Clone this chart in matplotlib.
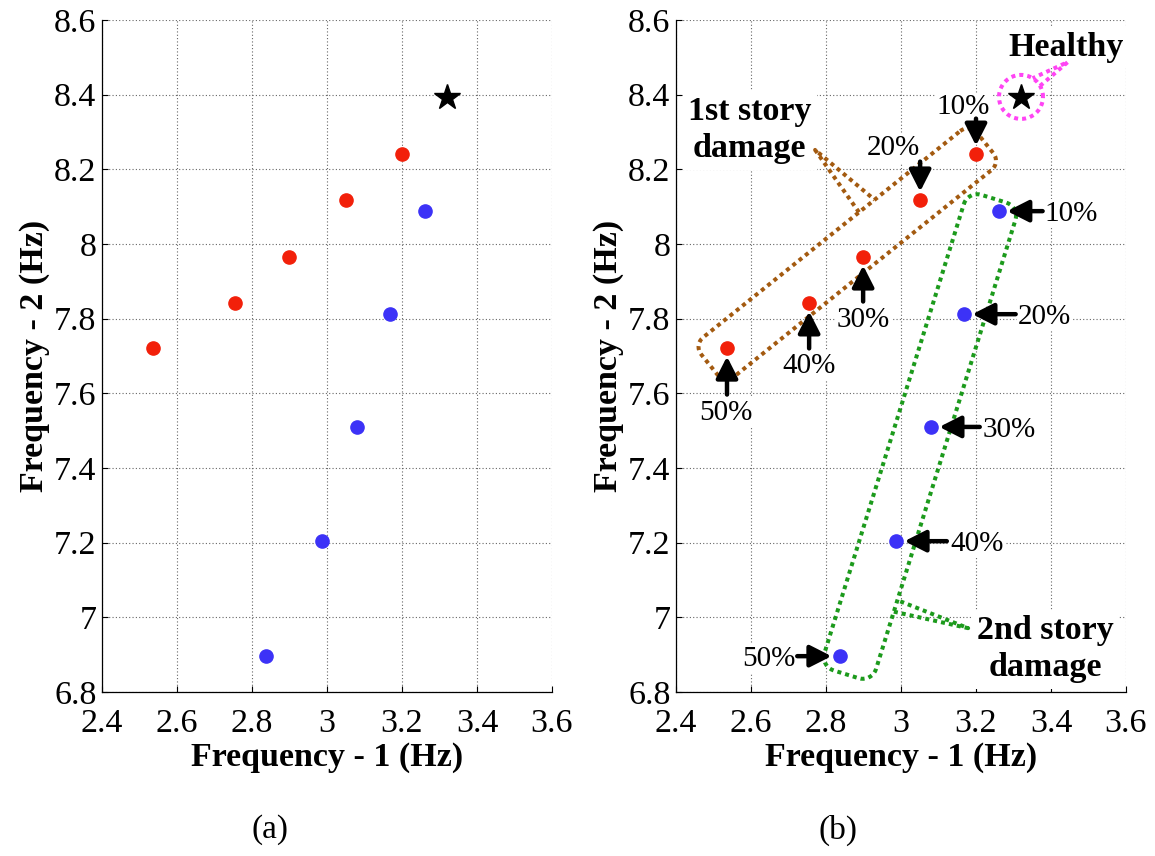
import numpy as np
import matplotlib
matplotlib.use('Agg')
import matplotlib.pyplot as plt
from matplotlib.ticker import FormatStrFormatter

plt.rcParams['font.family'] = ['Liberation Serif', 'DejaVu Serif']

# identified natural frequencies (Hz), damage levels 10% .. 50%
levels = ['10%', '20%', '30%', '40%', '50%']
story1_f1 = [3.200, 3.051, 2.899, 2.755, 2.536]
story1_f2 = [8.241, 8.118, 7.965, 7.842, 7.721]
story2_f1 = [3.261, 3.168, 3.080, 2.987, 2.837]
story2_f2 = [8.088, 7.812, 7.510, 7.204, 6.896]
healthy_f1 = 3.320
healthy_f2 = 8.394

xticks = [2.4, 2.6, 2.8, 3.0, 3.2, 3.4, 3.6]
yticks = [6.8, 7.0, 7.2, 7.4, 7.6, 7.8, 8.0, 8.2, 8.4, 8.6]

RED = '#f2200a'
BLUE = '#3c32f7'
BROWN = '#a35a10'
GREEN = '#1c9a1c'
MAGENTA = '#ff44f4'
DOTS = (0, (1, 1))

fig = plt.figure(figsize=(11.55, 8.56), dpi=100)
W, H = 1155, 856
ax1 = fig.add_axes([102 / W, (H - 692) / H, 450 / W, 672 / H])
ax2 = fig.add_axes([676 / W, (H - 692) / H, 450 / W, 672 / H])


def setup(ax):
    ax.set_xlim(2.4, 3.6)
    ax.set_ylim(6.8, 8.6)
    ax.set_xticks(xticks)
    ax.set_yticks(yticks)
    ax.xaxis.set_major_formatter(FormatStrFormatter('%g'))
    ax.yaxis.set_major_formatter(FormatStrFormatter('%g'))
    ax.tick_params(direction='in', length=4, width=0.8, labelsize=24.5,
                   top=False, right=False)
    ax.tick_params(axis='x', pad=12)
    ax.tick_params(axis='y', pad=4)
    for s in ['top', 'right']:
        ax.spines[s].set_visible(False)
    for s in ['left', 'bottom']:
        ax.spines[s].set_linewidth(0.9)
    ax.set_axisbelow(True)
    ax.grid(True, linestyle=(0, (1, 2)), lw=0.8, color='#666666')
    ax.plot(story1_f1, story1_f2, 'o', color=RED, ms=9.5, mec=RED, zorder=6)
    ax.plot(story2_f1, story2_f2, 'o', color=BLUE, ms=9.5, mec=BLUE, zorder=6)
    ax.plot(healthy_f1, healthy_f2, '*', color='k', ms=19, zorder=6)
    ax.set_xlabel('Frequency - 1 (Hz)', fontsize=24.5, fontweight='bold')
    ax.set_ylabel('Frequency - 2 (Hz)', fontsize=24.5, fontweight='bold')
    ax.xaxis.set_label_coords(0.5, -0.074)
    ax.yaxis.set_label_coords(-0.115, 0.5)


setup(ax1)
setup(ax2)


def dotted(ax, pts, color):
    d = ax.transData.inverted().transform(np.asarray(pts))
    ax.plot(d[:, 0], d[:, 1], color=color, lw=2.9, ls=DOTS,
            dash_capstyle='butt', zorder=5, clip_on=False)


def group_box(ax, xs, ys, pads, perps, half_w, r, color):
    # rounded box (pixel units) around the segment from the last point to the first
    a = ax.transData.transform((xs[-1], ys[-1]))
    b = ax.transData.transform((xs[0], ys[0]))
    u = (b - a) / np.hypot(*(b - a))
    n = np.array([u[1], -u[0]])
    c0 = a - pads[0] * u + perps[0] * n
    c1 = b + pads[1] * u + perps[1] * n
    L = np.hypot(*(c1 - c0))
    u = (c1 - c0) / L
    n = np.array([u[1], -u[0]])

    def local(s, t):
        return c0 + s * u + t * n

    pts = []
    for cs, ct, a0 in [(L - r, -half_w + r, -90), (L - r, half_w - r, 0),
                       (r, half_w - r, 90), (r, -half_w + r, 180)]:
        ang = np.radians(np.linspace(a0, a0 + 90, 10))
        for s, t in zip(cs + r * np.cos(ang), ct + r * np.sin(ang)):
            pts.append(local(s, t))
    pts.append(pts[0])
    dotted(ax, pts, color)
    return local


def tail(ax, bases, tip, color):
    t = ax.transData.transform(tip)
    dotted(ax, [bases[0], t, bases[1]], color)


# 1st story group
loc1 = group_box(ax2, story1_f1, story1_f2, pads=(24, 14), perps=(2, -3),
                 half_w=25, r=12, color=BROWN)
tail(ax2, [loc1(212, -25), loc1(232, -25)], (2.771, 8.252), BROWN)

# 2nd story group
loc2 = group_box(ax2, story2_f1, story2_f2, pads=(15, 10), perps=(12, -9),
                 half_w=27, r=14, color=GREEN)
tail(ax2, [loc2(74, 27), loc2(86, 27)], (3.179, 6.971), GREEN)

# healthy state ring
c = ax2.transData.transform((healthy_f1, healthy_f2))
ang = np.radians(np.linspace(0, 360, 60))
ring = np.column_stack([c[0] + 22 * np.cos(ang), c[1] + 22 * np.sin(ang)])
dotted(ax2, ring, MAGENTA)
tail(ax2, [c + 22 * np.array([np.cos(np.radians(30)), np.sin(np.radians(30))]),
           c + 22 * np.array([np.cos(np.radians(58)), np.sin(np.radians(58))])],
     (3.445, 8.4875), MAGENTA)

bold = dict(fontsize=24.5, fontweight='bold', zorder=3,
            bbox=dict(fc='white', ec='none', pad=4))
ax2.text(3.441, 8.5036, 'Healthy', ha='center', va='baseline', **bold)
ax2.text(2.597, 8.305, '1st story\ndamage', ha='center', va='center',
         linespacing=1.25, **bold)
ax2.text(3.384, 6.915, '2nd story\ndamage', ha='center', va='center',
         linespacing=1.25, **bold)

arrow = dict(arrowstyle='-|>,head_length=0.65,head_width=0.33', color='k',
             lw=3.2, shrinkA=0, mutation_scale=20)
label_box = dict(fc='white', ec='none', pad=1)

# (arrow tail offset, text offset, ha) in points
story1_marks = [((0, 25.5), (-9.4, 33.5), 'center'),
                ((0, 27.6), (-19.4, 37.2), 'center'),
                ((0, -32.0), (0, -45.2), 'center'),
                ((0, -32.7), (0, -45.2), 'center'),
                ((0, -33.4), (-0.7, -46.6), 'center')]
story2_marks = [((31.5, 0), (33.0, -2), 'left'),
                ((37.2, 0), (38.9, -2), 'left'),
                ((35.1, 0), (37.4, -2), 'left'),
                ((36.5, 0), (38.9, -2), 'left'),
                ((-30.7, 0), (-31.7, -2), 'right')]

for xs, ys, marks in [(story1_f1, story1_f2, story1_marks),
                      (story2_f1, story2_f2, story2_marks)]:
    for x, y, lab, (tail_off, text_off, ha) in zip(xs, ys, levels, marks):
        ax2.annotate('', xy=(x, y), xytext=tail_off, textcoords='offset points',
                     arrowprops=dict(shrinkB=6, **arrow), zorder=7)
        ax2.annotate(lab, xy=(x, y), xytext=text_off, textcoords='offset points',
                     ha=ha, va='center', fontsize=21, bbox=label_box, zorder=3)

fig.text(270 / W, 1 - 830 / H, '(a)', ha='center', va='center', fontsize=24)
fig.text(838 / W, 1 - 830 / H, '(b)', ha='center', va='center', fontsize=24)

fig.savefig('out.png', dpi=100)
